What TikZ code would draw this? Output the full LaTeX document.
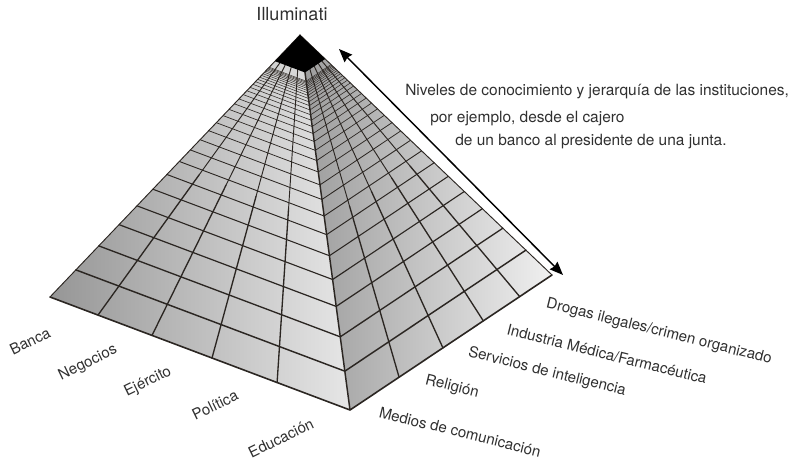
\documentclass[tikz,border=0pt]{standalone}
\usepackage{fontspec}
\setmainfont{TeX Gyre Heros}
\usetikzlibrary{calc,arrows.meta}
\tikzset{>={Stealth[length=10pt,width=8pt,inset=1pt]}}
\definecolor{gridline}{HTML}{2B2622}
\definecolor{leftdark}{HTML}{969696}
\definecolor{leftlight}{HTML}{E6E6E6}
\definecolor{rightdark}{HTML}{9C9C9C}
\definecolor{rightlight}{HTML}{F0F0F0}
\definecolor{labeltext}{HTML}{303030}

\begin{document}
\begin{tikzpicture}[x=0.75pt,y=-0.75pt,
    lbl/.style={font=\fontsize{11.3}{13}\selectfont, text=labeltext, inner sep=0pt},
    gline/.style={draw=gridline, line cap=round, line join=round}]
  \useasboundingbox (0,0) rectangle (790,466);
  \def\ratio{0.885}
  \def\capt{0.9}
  \coordinate (A) at (300,35);
  \coordinate (L) at (50,297);
  \coordinate (F) at (350,410);
  \coordinate (R) at (552,275);
  % faces
  \shade[left color=leftdark, right color=leftlight] (L) -- (F) -- (A) -- cycle;
  \shade[left color=rightdark, right color=rightlight] (F) -- (R) -- (A) -- cycle;
  % rows, closer together towards the top
  \foreach \k in {1,...,30}{
    \pgfmathsetmacro\t{\capt*(1-\ratio^\k)}
    \pgfmathsetmacro\w{0.3+0.9*\ratio^\k}
    \draw[gline, line width=\w pt] ($(L)!\t!(A)$) -- ($(F)!\t!(A)$) -- ($(R)!\t!(A)$);
  }
  % columns, thinner near the top
  \foreach \s in {0.16,0.34,0.54,0.757}{
    \coordinate (b) at ($(L)!\s!(F)$);
    \draw[gline, line width=1pt] (b) -- ($(b)!0.5!(A)$);
    \draw[gline, line width=0.7pt] ($(b)!0.5!(A)$) -- ($(b)!\capt!(A)$);
  }
  \foreach \s in {0.243,0.46,0.66,0.84}{
    \coordinate (b) at ($(F)!\s!(R)$);
    \draw[gline, line width=1pt] (b) -- ($(b)!0.5!(A)$);
    \draw[gline, line width=0.7pt] ($(b)!0.5!(A)$) -- ($(b)!\capt!(A)$);
  }
  \draw[gline, line width=1.2pt] (L) -- (F) -- (R);
  \draw[gline, line width=0.7pt] (L) -- (A) -- (R);
  \draw[gline, line width=1.1pt] (F) -- (A);
  \fill[black] (A) -- ($(L)!\capt!(A)$) -- ($(F)!\capt!(A)$) -- ($(R)!\capt!(A)$) -- cycle;

  \node[lbl, font=\fontsize{13.5}{16}\selectfont] (top) at (292,14) {Illuminati};

  % knowledge arrow
  \coordinate (arrtop) at (339,49);
  \coordinate (arrbot) at (563,275);
  \draw[<->, line width=1.1pt] (arrtop) -- (arrbot);
  \node[lbl, anchor=base west, font=\fontsize{11.6}{14}\selectfont] (niv1) at (405,96) {Niveles de conocimiento y jerarquía de las instituciones,};
  \node[lbl, anchor=base west, font=\fontsize{11.6}{14}\selectfont] (niv2) at (430,123) {por ejemplo, desde el cajero};
  \node[lbl, anchor=base west, font=\fontsize{11.6}{14}\selectfont] (niv3) at (455,146) {de un banco al presidente de una junta.};

  % left face
  \node[lbl, rotate=26] (banca) at (30,341) {Banca};
  \node[lbl, rotate=26] (negocios) at (88,363) {Negocios};
  \node[lbl, rotate=26] (ejercito) at (148,382) {Ejército};
  \node[lbl, rotate=26] (politica) at (215,405) {Política};
  \node[lbl, rotate=26] (educacion) at (281,438) {Educación};
  % right face
  \node[lbl, rotate=-14] (drogas) at (659,332) {Drogas ilegales/crimen organizado};
  \node[lbl, rotate=-14] (industria) at (607,354) {Industria Médica/Farmacéutica};
  \node[lbl, rotate=-14] (servicios) at (547,372) {Servicios de inteligencia};
  \node[lbl, rotate=-14] (religion) at (452,387) {Religión};
  \node[lbl, rotate=-14] (medios) at (460,432) {Medios de comunicación};
\end{tikzpicture}
\end{document}
